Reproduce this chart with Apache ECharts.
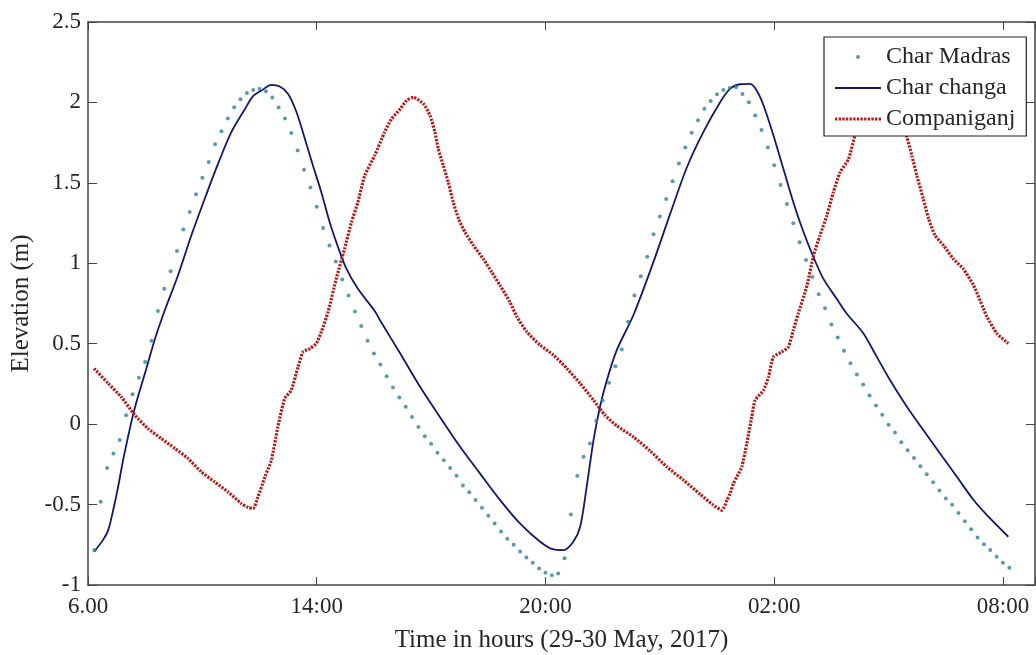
<!DOCTYPE html>
<html>
<head>
<meta charset="utf-8">
<script src="https://cdn.jsdelivr.net/npm/echarts@6/dist/echarts.min.js"></script>
<style>
html,body{margin:0;padding:0;background:#fff;}
#chart{width:1036px;height:655px;}
</style>
</head>
<body>
<div id="chart"></div>
<script>
// x values are hours elapsed since the first tick ("6.00"); ticks every 6 h on the drawn axis
const xTickLabels = ['6.00', '14:00', '20:00', '02:00', '08:00'];
const yTickLabels = ['-1', '-0.5', '0', '0.5', '1', '1.5', '2', '2.5'];

// Char Madras: one sample every 10 minutes, starting 10 minutes after the first tick
const madrasStepHours = 1 / 6;
const madrasElev = [
  -0.783, -0.483, -0.272, -0.182, -0.099, 0.056, 0.186, 0.288, 0.387, 0.518,
  0.704, 0.841, 0.951, 1.077, 1.210, 1.319, 1.429, 1.531, 1.630, 1.740,
  1.821, 1.900, 1.970, 2.020, 2.059, 2.078, 2.084, 2.070, 2.030, 1.968,
  1.900, 1.810, 1.701, 1.581, 1.471, 1.351, 1.220, 1.111, 1.011, 0.899,
  0.800, 0.700, 0.610, 0.518, 0.439, 0.371, 0.298, 0.228, 0.166, 0.108,
  0.044, -0.017, -0.075, -0.122, -0.178, -0.224, -0.273, -0.321, -0.381, -0.424,
  -0.472, -0.520, -0.570, -0.617, -0.667, -0.713, -0.750, -0.791, -0.829, -0.862,
  -0.897, -0.924, -0.939, -0.928, -0.833, -0.561, -0.321, -0.203, -0.120, 0.021,
  0.147, 0.257, 0.360, 0.464, 0.636, 0.800, 0.920, 1.040, 1.181, 1.291,
  1.400, 1.510, 1.620, 1.720, 1.811, 1.889, 1.960, 2.009, 2.051, 2.078,
  2.090, 2.094, 2.053, 2.001, 1.919, 1.829, 1.720, 1.610, 1.487, 1.369,
  1.249, 1.131, 1.021, 0.914, 0.808, 0.720, 0.620, 0.539, 0.456, 0.379,
  0.309, 0.247, 0.178, 0.116, 0.058, -0.004, -0.052, -0.112, -0.163, -0.211,
  -0.261, -0.311, -0.362, -0.412, -0.462, -0.501, -0.553, -0.603, -0.654, -0.704,
  -0.746, -0.783, -0.825, -0.862, -0.893
];

// Char changa: (hours, elevation)
const changaTime = [
  0.16, 0.39, 0.53, 0.66, 0.79, 0.92, 1.05, 1.18, 1.31, 1.53,
  1.75, 2.01, 2.36, 2.71, 3.06, 3.41, 3.76, 4.11, 4.33, 4.55,
  4.81, 5.03, 5.25, 5.47, 5.69, 5.90, 6.12, 6.34, 6.56, 6.78,
  7.08, 7.52, 7.66, 8.19, 8.71, 9.23, 9.76, 10.28, 10.81, 11.33,
  11.86, 12.21, 12.47, 12.73, 12.91, 13.08, 13.26, 13.43, 13.61, 13.87,
  14.31, 14.83, 15.27, 15.71, 16.14, 16.58, 16.84, 17.11, 17.37, 17.54,
  17.72, 17.98, 18.24, 18.50, 18.77, 19.03, 19.29, 19.64, 19.90, 20.34,
  20.69, 21.04, 21.48, 21.91, 22.35, 22.79, 23.23, 23.58, 24.14
];
const changaElev = [
  -0.794, -0.721, -0.659, -0.535, -0.390, -0.224, -0.079, 0.056, 0.170, 0.345,
  0.525, 0.705, 0.924, 1.173, 1.400, 1.618, 1.815, 1.956, 2.039, 2.074,
  2.109, 2.099, 2.053, 1.939, 1.773, 1.608, 1.442, 1.255, 1.100, 0.965,
  0.841, 0.704, 0.646, 0.439, 0.232, 0.045, -0.141, -0.306, -0.472, -0.617,
  -0.731, -0.779, -0.783, -0.731, -0.638, -0.390, -0.099, 0.108, 0.273, 0.460,
  0.680, 1.007, 1.307, 1.597, 1.815, 2.001, 2.084, 2.113, 2.115, 2.074,
  1.981, 1.794, 1.587, 1.380, 1.193, 1.038, 0.903, 0.779, 0.688, 0.564,
  0.418, 0.273, 0.108, -0.037, -0.182, -0.327, -0.472, -0.566, -0.700
];

// Companiganj: (hours, elevation)
const companiTime = [
  0.16, 0.53, 0.87, 1.23, 1.57, 1.92, 2.28, 2.62, 2.97, 3.32,
  3.67, 4.02, 4.20, 4.33, 4.46, 4.64, 4.81, 4.98, 5.16, 5.33,
  5.51, 5.64, 5.82, 5.99, 6.12, 6.30, 6.51, 6.73, 6.91, 7.08,
  7.26, 7.52, 7.78, 7.96, 8.19, 8.36, 8.53, 8.80, 8.97, 9.10,
  9.19, 9.32, 9.45, 9.58, 9.72, 9.89, 10.11, 10.37, 10.59, 10.81,
  11.07, 11.25, 11.51, 11.86, 12.21, 12.56, 12.91, 13.26, 13.56, 13.87,
  14.31, 14.74, 15.18, 15.62, 16.06, 16.40, 16.63, 16.76, 16.84, 16.93,
  17.02, 17.15, 17.28, 17.41, 17.50, 17.72, 17.85, 17.98, 18.20, 18.37,
  18.50, 18.63, 18.86, 19.03, 19.20, 19.38, 19.55, 19.73, 19.95, 20.12,
  20.38, 20.65, 20.91, 21.17, 21.38, 21.48, 21.61, 21.74, 21.91, 22.05,
  22.22, 22.44, 22.70, 22.96, 23.23, 23.49, 23.58, 23.84, 24.14
];
const companiElev = [
  0.346, 0.253, 0.170, 0.056, -0.027, -0.089, -0.151, -0.213, -0.296, -0.359,
  -0.421, -0.493, -0.518, -0.524, -0.452, -0.328, -0.224, -0.017, 0.160, 0.211,
  0.356, 0.449, 0.470, 0.502, 0.574, 0.700, 0.903, 1.090, 1.255, 1.380,
  1.546, 1.670, 1.815, 1.897, 1.960, 2.012, 2.032, 1.991, 1.919, 1.815,
  1.711, 1.608, 1.504, 1.380, 1.276, 1.193, 1.111, 1.027, 0.945, 0.862,
  0.758, 0.667, 0.574, 0.491, 0.429, 0.346, 0.253, 0.149, 0.056, -0.010,
  -0.080, -0.165, -0.265, -0.348, -0.436, -0.503, -0.535, -0.472, -0.431, -0.369,
  -0.327, -0.265, -0.120, 0.045, 0.149, 0.211, 0.294, 0.418, 0.449, 0.480,
  0.584, 0.688, 0.862, 1.048, 1.173, 1.297, 1.442, 1.566, 1.649, 1.794,
  1.920, 2.000, 2.030, 1.980, 1.860, 1.784, 1.670, 1.546, 1.400, 1.276,
  1.173, 1.111, 1.027, 0.965, 0.862, 0.717, 0.667, 0.564, 0.502
];

const X_MIN = 0, X_MAX = 24.84, X_INT = 6;
const Y_MIN = -1, Y_MAX = 2.5, Y_INT = 0.5;

const madrasData = madrasElev.map((v, i) => [(i + 1) * madrasStepHours, v]);
const changaData = changaTime.map((t, i) => [t, changaElev[i]]);
const companiData = companiTime.map((t, i) => [t, companiElev[i]]);

const FONT = '"Liberation Serif", "DejaVu Serif", serif';
const TXT = '#262626';
const AX = '#444444';
const C_MADRAS = '#2f819c';
const C_CHANGA = '#12196b';
const C_COMPANI = '#b11d1a';

// legend icons (style only)
const ICON_DOT = 'path://M0,0 M46,6 M21,3 a2,2 0 1,0 4,0 a2,2 0 1,0 -4,0 z';
const ICON_LINE = 'path://M0,0 h46 v2 h-46 z';
let dotted = 'path://';
for (let i = 0; i < 13; i++) dotted += 'M' + (i * 3.55) + ',0 h2.3 v3 h-2.3 z ';
const ICON_DOTTED = dotted.trim();

function xLabel(v) {
  const i = Math.round(v / X_INT);
  return Math.abs(v - i * X_INT) < 1e-6 && xTickLabels[i] !== undefined ? xTickLabels[i] : '';
}
function yLabel(v) {
  const s = String(Math.round(v * 10) / 10);
  return yTickLabels.indexOf(s) >= 0 ? s : '';
}

const axisLineStyle = {show: true, onZero: false, lineStyle: {color: AX, width: 1.5}};

const chart = echarts.init(document.getElementById('chart'), null, {renderer: 'canvas'});
chart.setOption({
  backgroundColor: '#ffffff',
  animation: false,
  grid: {left: 88, right: 1, top: 22, bottom: 70, containLabel: false, outerBoundsMode: 'none'},
  xAxis: [{
    type: 'value', min: X_MIN, max: X_MAX, interval: X_INT,
    position: 'bottom',
    name: 'Time in hours (29-30 May, 2017)', nameLocation: 'middle', nameGap: 43,
    nameTextStyle: {fontFamily: FONT, fontSize: 25, color: TXT},
    axisLine: axisLineStyle,
    axisTick: {show: true, inside: true, length: 8, lineStyle: {color: AX, width: 1}},
    axisLabel: {fontFamily: FONT, fontSize: 23, color: TXT, margin: 10, formatter: xLabel, showMinLabel: true, showMaxLabel: true},
    splitLine: {show: false}
  }, {
    type: 'value', min: X_MIN, max: X_MAX, interval: X_INT,
    position: 'top',
    axisLine: axisLineStyle,
    axisTick: {show: true, inside: true, length: 8, lineStyle: {color: AX, width: 1}},
    axisLabel: {show: false},
    splitLine: {show: false}
  }],
  yAxis: [{
    type: 'value', min: Y_MIN, max: Y_MAX, interval: Y_INT,
    position: 'left',
    name: 'Elevation (m)', nameLocation: 'middle', nameGap: 54,
    nameTextStyle: {fontFamily: FONT, fontSize: 25, color: TXT},
    axisLine: axisLineStyle,
    axisTick: {show: true, inside: true, length: 9, lineStyle: {color: AX, width: 1}},
    axisLabel: {fontFamily: FONT, fontSize: 23, color: TXT, margin: 7, formatter: yLabel},
    splitLine: {show: false}
  }, {
    type: 'value', min: Y_MIN, max: Y_MAX, interval: Y_INT,
    position: 'right',
    axisLine: axisLineStyle,
    axisTick: {show: true, inside: true, length: 9, lineStyle: {color: AX, width: 1}},
    axisLabel: {show: false},
    splitLine: {show: false}
  }],
  legend: {
    data: [
      {name: 'Char Madras', icon: ICON_DOT},
      {name: 'Char changa', icon: ICON_LINE},
      {name: 'Companiganj', icon: ICON_DOTTED}
    ],
    orient: 'vertical', left: 824, top: 37, z: 10,
    padding: [8, 11, 5, 11],
    itemWidth: 46, itemHeight: 14, itemGap: 7,
    backgroundColor: '#ffffff', borderColor: '#222222', borderWidth: 1.2, borderRadius: 0,
    textStyle: {fontFamily: FONT, fontSize: 24, color: TXT, lineHeight: 24},
    selectedMode: false
  },
  series: [{
    name: 'Char Madras', type: 'scatter',
    data: madrasData, symbol: 'circle', symbolSize: 4,
    itemStyle: {color: C_MADRAS}, z: 3
  }, {
    name: 'Char changa', type: 'line',
    data: changaData, showSymbol: false, symbol: 'none', smooth: 0.3,
    lineStyle: {color: C_CHANGA, width: 1.8},
    itemStyle: {color: C_CHANGA}, z: 2
  }, {
    name: 'Companiganj', type: 'line',
    data: companiData, showSymbol: false, symbol: 'none', smooth: 0.2,
    lineStyle: {color: C_COMPANI, width: 3.2, type: [2.2, 1.3]},
    itemStyle: {color: C_COMPANI}, z: 2
  }]
});
</script>
</body>
</html>
